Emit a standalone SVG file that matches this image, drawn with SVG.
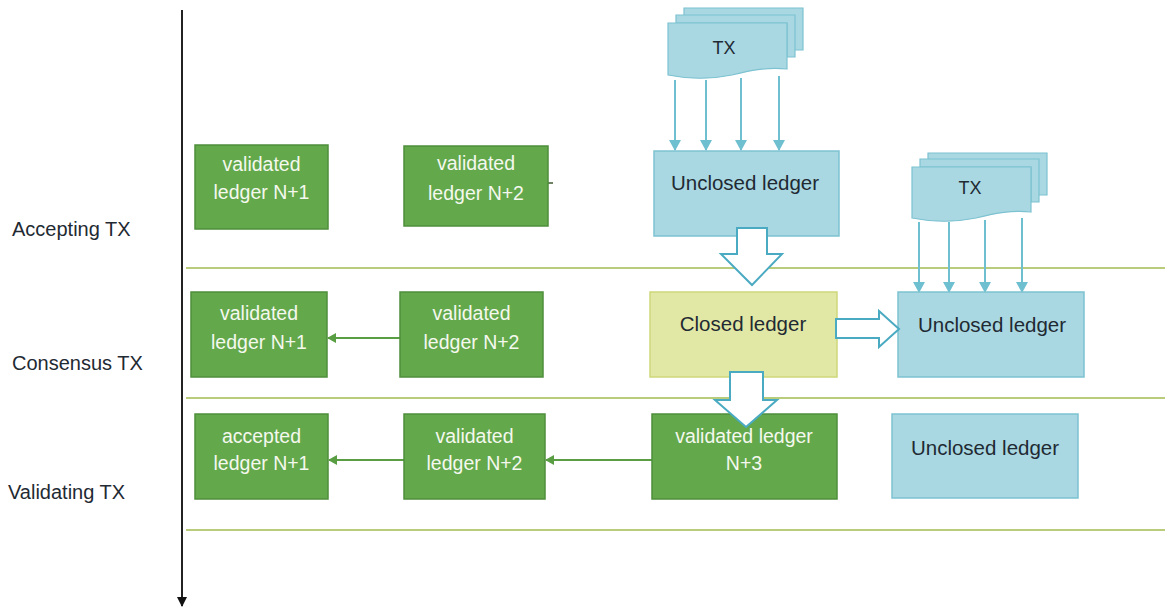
<svg xmlns="http://www.w3.org/2000/svg" width="1165" height="611" viewBox="0 0 1165 611">
<style>
.g{fill:#63a84b;stroke:#4f8f3b;stroke-width:1.5}
.b{fill:#a9d8e2;stroke:#7dc2d1;stroke-width:1.5}
.y{fill:#e1e8a5;stroke:#ced77a;stroke-width:1.5}
.doc{fill:#a9d8e2;stroke:#7dc2d1;stroke-width:1.2}
.wt{font-family:"Liberation Sans",Arial,sans-serif;font-size:19.5px;fill:#f4f8ee;text-anchor:middle}
.dt{font-family:"Liberation Sans",Arial,sans-serif;font-size:20.5px;fill:#1f2a33;text-anchor:middle}
.tx{font-family:"Liberation Sans",Arial,sans-serif;font-size:18px;fill:#1f2a33;text-anchor:middle}
.lt{font-family:"Liberation Sans",Arial,sans-serif;font-size:20px;fill:#1f2a33}
.sep{stroke:#b9cc7c;stroke-width:2}
.ga{stroke:#5a9e44;stroke-width:2;fill:none}
.ba{stroke:#6ec0d0;stroke-width:2;fill:none}
.ha{fill:#fff;stroke:#4aaac2;stroke-width:2;stroke-linejoin:miter}
</style>
<defs>
<marker id="mg" markerWidth="10" markerHeight="10" refX="8" refY="5" orient="auto" markerUnits="userSpaceOnUse"><path d="M0,0 L9,5 L0,10 Z" fill="#5a9e44"/></marker>
<marker id="mb" markerWidth="12" markerHeight="12" refX="10" refY="6" orient="auto" markerUnits="userSpaceOnUse"><path d="M0,0 L11,6 L0,12 Z" fill="#6ec0d0"/></marker>
<marker id="mk" markerWidth="10" markerHeight="10" refX="9" refY="5" orient="auto" markerUnits="userSpaceOnUse"><path d="M0,0 L10,5 L0,10 Z" fill="#111"/></marker>
</defs>
<rect width="1165" height="611" fill="#fff"/>

<g id="timeline">
<line x1="182" y1="10" x2="182" y2="606" stroke="#222" stroke-width="2" marker-end="url(#mk)"/>
</g>
<g id="separators">
<line class="sep" x1="186" y1="268" x2="1165" y2="268"/>
<line class="sep" x1="186" y1="398" x2="1165" y2="398"/>
<line class="sep" x1="186" y1="530" x2="1165" y2="530"/>
</g>
<g id="labels">
<text class="lt" x="12" y="236">Accepting TX</text>
<text class="lt" x="12" y="370">Consensus TX</text>
<text class="lt" x="8" y="499">Validating TX</text>
</g>

<g id="tx1">
<path class="doc" d="M684,8 H803 V50 H787 V16 H684 Z"/>
<path class="doc" d="M676,15 H795 V57 H787 V23 H676 Z"/>
<path class="doc" d="M668,23 H787 V69 C768,67 752,70 732,75 C708,80 688,79 668,75 Z"/>
<text class="tx" x="724" y="54">TX</text>
</g>
<g id="tx2">
<path class="doc" d="M928,153 H1047 V195 H1031 V161 H928 Z"/>
<path class="doc" d="M920,159 H1039 V202 H1031 V167 H920 Z"/>
<path class="doc" d="M912,167 H1031 V212 C1012,210 996,213 976,218 C952,223 932,222 912,218 Z"/>
<text class="tx" x="970" y="194">TX</text>
</g>

<g id="connectors">
<line class="ba" x1="675" y1="80" x2="675" y2="150" marker-end="url(#mb)"/>
<line class="ba" x1="706" y1="80" x2="706" y2="150" marker-end="url(#mb)"/>
<line class="ba" x1="741" y1="78" x2="741" y2="150" marker-end="url(#mb)"/>
<line class="ba" x1="779" y1="76" x2="779" y2="150" marker-end="url(#mb)"/>
<line class="ba" x1="919" y1="222" x2="919" y2="292" marker-end="url(#mb)"/>
<line class="ba" x1="949" y1="222" x2="949" y2="292" marker-end="url(#mb)"/>
<line class="ba" x1="985" y1="220" x2="985" y2="292" marker-end="url(#mb)"/>
<line class="ba" x1="1022" y1="218" x2="1022" y2="292" marker-end="url(#mb)"/>
<line class="ga" x1="400" y1="338" x2="328" y2="338" marker-end="url(#mg)"/>
<line class="ga" x1="404" y1="460" x2="329" y2="460" marker-end="url(#mg)"/>
<line class="ga" x1="652" y1="460" x2="546" y2="460" marker-end="url(#mg)"/>
<line x1="548" y1="183" x2="553" y2="183" stroke="#3d5a30" stroke-width="1.5"/>
</g>

<g id="n-r1-v1"><rect class="g" x="195" y="145" width="133" height="84"/>
<text class="wt" x="261.5" y="171">validated</text><text class="wt" x="261.5" y="199">ledger N+1</text></g>
<g id="n-r1-v2"><rect class="g" x="404" y="146" width="144" height="80"/>
<text class="wt" x="476" y="170">validated</text><text class="wt" x="476" y="200">ledger N+2</text></g>
<g id="n-r1-unclosed"><rect class="b" x="654" y="151" width="185" height="85"/>
<text class="dt" x="745" y="190">Unclosed ledger</text></g>

<g id="n-r2-v1"><rect class="g" x="191" y="292" width="136" height="85"/>
<text class="wt" x="259" y="320">validated</text><text class="wt" x="259" y="349">ledger N+1</text></g>
<g id="n-r2-v2"><rect class="g" x="400" y="292" width="143" height="85"/>
<text class="wt" x="471.5" y="320">validated</text><text class="wt" x="471.5" y="349">ledger N+2</text></g>
<g id="n-r2-closed"><rect class="y" x="650" y="292" width="187" height="85"/>
<text class="dt" x="743" y="331">Closed ledger</text></g>
<g id="n-r2-unclosed"><rect class="b" x="898" y="292" width="186" height="85"/>
<text class="dt" x="992" y="332">Unclosed ledger</text></g>

<g id="n-r3-acc"><rect class="g" x="195" y="414" width="133" height="85"/>
<text class="wt" x="261.5" y="443">accepted</text><text class="wt" x="261.5" y="470">ledger N+1</text></g>
<g id="n-r3-v2"><rect class="g" x="404" y="414" width="141" height="85"/>
<text class="wt" x="474.5" y="443">validated</text><text class="wt" x="474.5" y="470">ledger N+2</text></g>
<g id="n-r3-v3"><rect class="g" x="652" y="414" width="185" height="85"/>
<text class="wt" x="744" y="443">validated ledger</text><text class="wt" x="744" y="470">N+3</text></g>
<g id="n-r3-unclosed"><rect class="b" x="892" y="414" width="186" height="84"/>
<text class="dt" x="985" y="455">Unclosed ledger</text></g>

<g id="block-arrows">
<path class="ha" d="M737,228 H767 V254 H782 L752,285 L721,254 H737 Z"/>
<path class="ha" d="M836,319 H879 V311 L899,329 L879,347 V338 H836 Z"/>
<path class="ha" d="M730,372 H763 V400 H777 L746,427 L715,400 H730 Z"/>
</g>
</svg>
